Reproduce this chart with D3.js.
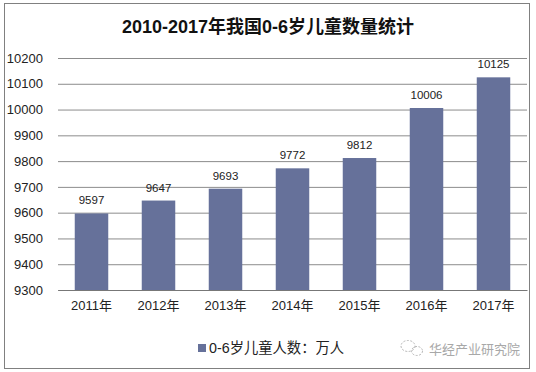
<!DOCTYPE html>
<html>
<head>
<meta charset="utf-8">
<script src="https://cdn.jsdelivr.net/npm/d3@7"></script>
<style>
  html, body { margin: 0; padding: 0; background: #fff; }
  text { font-family: "Liberation Sans", "Noto Sans CJK SC", sans-serif; fill: #222; }
</style>
</head>
<body>
<div id="chart"></div>
<script>
const years = ["2011年", "2012年", "2013年", "2014年", "2015年", "2016年", "2017年"];
const children = [9597, 9647, 9693, 9772, 9812, 10006, 10125];
const yTicks = [9300, 9400, 9500, 9600, 9700, 9800, 9900, 10000, 10100, 10200];

const width = 536;
const height = 372;
const margin = { top: 58, right: 8, bottom: 82, left: 58 };
const barColor = "#66719a";

const svg = d3.select("#chart")
  .append("svg")
  .attr("width", width)
  .attr("height", height)
  .style("display", "block");

// outer frame
svg.append("rect")
  .attr("x", 4.5)
  .attr("y", 3.5)
  .attr("width", 525)
  .attr("height", 365)
  .attr("fill", "#fff")
  .attr("stroke", "#808080");

svg.append("text")
  .attr("x", 268)
  .attr("y", 33)
  .attr("text-anchor", "middle")
  .attr("font-size", 18)
  .attr("font-weight", "bold")
  .style("fill", "#111")
  .text("2010-2017年我国0-6岁儿童数量统计");

const x = d3.scaleBand()
  .domain(years)
  .range([margin.left, width - margin.right - 1])
  .paddingInner(0.5)
  .paddingOuter(0.25);

const y = d3.scaleLinear()
  .domain([9300, 10200])
  .range([height - margin.bottom, margin.top]);

// gridlines come from the axis ticks
const yAxis = svg.append("g")
  .attr("transform", `translate(${margin.left},0)`)
  .call(d3.axisLeft(y)
    .tickValues(yTicks)
    .tickSize(-(width - margin.left - margin.right - 1))
    .tickFormat(d3.format("d"))
    .tickPadding(15));
yAxis.select(".domain").remove();
yAxis.selectAll("line").attr("stroke", "#8c8c8c");
yAxis.selectAll("text").attr("font-size", 13).style("font-family", null);

const xAxis = svg.append("g")
  .attr("transform", `translate(0,${height - margin.bottom})`)
  .call(d3.axisBottom(x).tickSize(0).tickPadding(11));
xAxis.select(".domain").attr("stroke", "#777");
xAxis.selectAll("text").attr("font-size", 13).style("font-family", null);

svg.selectAll("rect.bar")
  .data(children)
  .enter()
  .append("rect")
  .attr("class", "bar")
  .attr("x", (d, i) => x(years[i]))
  .attr("y", (d) => y(d))
  .attr("width", x.bandwidth())
  .attr("height", (d) => y(9300) - y(d))
  .attr("fill", barColor);

svg.selectAll("text.value")
  .data(children)
  .enter()
  .append("text")
  .attr("class", "value")
  .attr("x", (d, i) => x(years[i]) + x.bandwidth() / 2)
  .attr("y", (d) => y(d) - 9)
  .attr("text-anchor", "middle")
  .attr("font-size", 11.5)
  .text((d) => d);

// legend
svg.append("rect")
  .attr("x", 198)
  .attr("y", 344)
  .attr("width", 8)
  .attr("height", 8)
  .attr("fill", barColor);

svg.append("text")
  .attr("x", 209)
  .attr("y", 353)
  .attr("font-size", 14.3)
  .text("0-6岁儿童人数：万人");

// watermark
const mark = svg.append("g").attr("fill", "none").attr("stroke", "#b5b5b5").attr("stroke-width", 1);
mark.append("ellipse").attr("cx", 408).attr("cy", 346).attr("rx", 7).attr("ry", 5.5).attr("stroke-dasharray", "2 1.5");
mark.append("ellipse").attr("cx", 417).attr("cy", 351).attr("rx", 5.5).attr("ry", 4.5).attr("stroke-dasharray", "2 1.5");

svg.append("text")
  .attr("x", 429)
  .attr("y", 354)
  .attr("font-size", 13)
  .style("fill", "#a8a8a8")
  .text("华经产业研究院");
</script>
</body>
</html>
